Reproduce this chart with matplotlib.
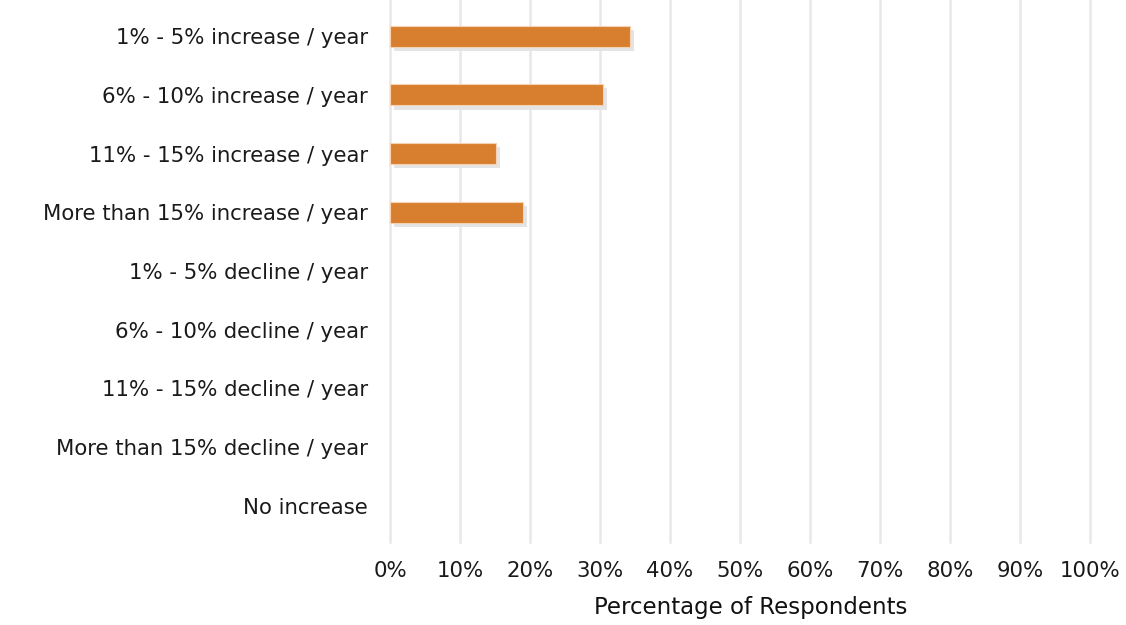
import numpy as np
import matplotlib.pyplot as plt
import matplotlib.patheffects as pe
from matplotlib.ticker import PercentFormatter

categories = ['1% - 5% increase / year', '6% - 10% increase / year',
              '11% - 15% increase / year', 'More than 15% increase / year',
              '1% - 5% decline / year', '6% - 10% decline / year',
              '11% - 15% decline / year', 'More than 15% decline / year',
              'No increase']
values = [34.3, 30.4, 15.1, 19.0, 0, 0, 0, 0, 0]
xticks = list(range(0, 101, 10))

plt.rcParams['font.family'] = ['DejaVu Sans']

fig = plt.figure(figsize=(11.26, 6.25), dpi=100)
ax = fig.add_axes([390/1126, 83/625, 700/1126, 542/625])

y = np.arange(len(categories))
bars = ax.barh(y, values, height=0.36, color='#D87F2F', zorder=3)
for b, v in zip(bars, values):
    if v > 0:
        b.set_edgecolor('#f6d2b0')
        b.set_linewidth(0.8)
        b.set_path_effects([pe.SimplePatchShadow(offset=(3, -3), shadow_rgbFace='#e4e4e4', alpha=1),
                            pe.Normal()])
    else:
        b.set_visible(False)

ax.set_ylim(8.615, -0.615)
ax.set_xlim(0, 100)
ax.set_xticks(xticks)
ax.xaxis.set_major_formatter(PercentFormatter(decimals=0))
ax.set_yticks(y)
ax.set_yticklabels(categories)
ax.grid(axis='x', color='#e8e8e8', linewidth=1.8, zorder=0)
for gl in ax.get_xgridlines():
    gl.set_clip_on(False)
ax.tick_params(length=0, labelsize=15.3, colors='#1a1a1a')
ax.tick_params(axis='y', pad=16)
ax.tick_params(axis='x', pad=14)
for s in ax.spines.values():
    s.set_visible(False)
ax.set_xlabel('Percentage of Respondents', fontsize=16.5, labelpad=12, color='#111111')
ax.xaxis.set_label_coords(0.515, -0.1)

fig.savefig('out.png', dpi=100)
